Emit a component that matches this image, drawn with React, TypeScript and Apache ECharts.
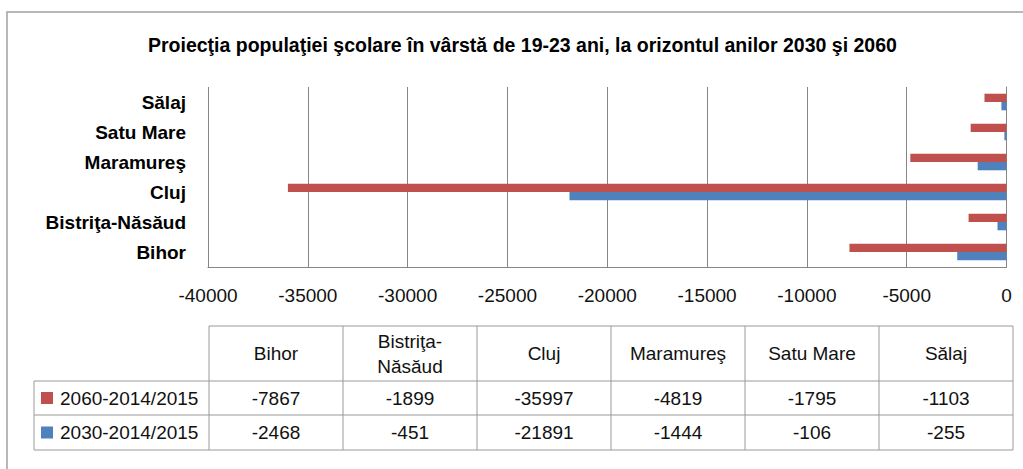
import React, { useEffect, useRef } from "react";
import * as echarts from "echarts";

const titleText = "Proiecţia populaţiei şcolare în vârstă de 19-23 ani, la orizontul anilor 2030 şi 2060";
const categories = ["Bihor", "Bistriţa-Năsăud", "Cluj", "Maramureş", "Satu Mare", "Sălaj"];
const seriesNames = ["2060-2014/2015", "2030-2014/2015"];
const values2060 = [-7867, -1899, -35997, -4819, -1795, -1103];
const values2030 = [-2468, -451, -21891, -1444, -106, -255];
const seriesColors = ["#C0504D", "#4F81BD"];
const xMin = -40000;
const xMax = 0;
const xInterval = 5000;

const FONT = "'Liberation Sans', Arial, sans-serif";

function buildTable() {
  const left = 34;
  const colLeft = 209;
  const colW = 134;
  const rows = [326, 381, 415, 450];
  const right = colLeft + colW * categories.length;
  const stroke = { stroke: "#9a9a9a", lineWidth: 1 };
  const els: any[] = [];
  els.push({ type: "line", shape: { x1: colLeft, y1: rows[0], x2: right, y2: rows[0] }, style: stroke });
  for (let i = 1; i < rows.length; i++) {
    els.push({ type: "line", shape: { x1: left, y1: rows[i], x2: right, y2: rows[i] }, style: stroke });
  }
  els.push({ type: "line", shape: { x1: left, y1: rows[1], x2: left, y2: rows[3] }, style: stroke });
  for (let c = 0; c <= categories.length; c++) {
    const x = colLeft + c * colW;
    els.push({ type: "line", shape: { x1: x, y1: rows[0], x2: x, y2: rows[3] }, style: stroke });
  }
  categories.forEach((cat, c) => {
    els.push({
      type: "text",
      x: colLeft + c * colW + colW / 2,
      y: (rows[0] + rows[1]) / 2,
      style: {
        text: cat.replace("-", "-\n"),
        font: `19px ${FONT}`,
        fill: "#111",
        align: "center",
        verticalAlign: "middle",
        lineHeight: 25,
      },
    });
  });
  const allValues = [values2060, values2030];
  allValues.forEach((vals, r) => {
    const yc = (rows[r + 1] + rows[r + 2]) / 2;
    els.push({
      type: "rect",
      shape: { x: 41, y: yc - 6, width: 12, height: 12 },
      style: { fill: seriesColors[r] },
    });
    els.push({
      type: "text",
      x: 60,
      y: yc,
      style: { text: seriesNames[r], font: `19px ${FONT}`, fill: "#111", align: "left", verticalAlign: "middle" },
    });
    vals.forEach((v, c) => {
      els.push({
        type: "text",
        x: colLeft + c * colW + colW / 2,
        y: yc,
        style: { text: String(v), font: `19px ${FONT}`, fill: "#111", align: "center", verticalAlign: "middle" },
      });
    });
  });
  return els;
}

export default function App() {
  const ref = useRef<HTMLDivElement>(null);
  useEffect(() => {
    if (!ref.current) return;
    const chart = echarts.init(ref.current, null, { renderer: "svg" });
    chart.setOption({
      animation: false,
      backgroundColor: "#fff",
      title: {
        text: titleText,
        left: 148,
        top: 35,
        padding: 0,
        textStyle: { fontFamily: FONT, fontSize: 19.5, fontWeight: "bold", color: "#000" },
      },
      grid: { left: 208, right: 16.5, top: 87, height: 180, containLabel: false },
      xAxis: {
        type: "value",
        min: xMin,
        max: xMax,
        interval: xInterval,
        axisLine: { show: true, lineStyle: { color: "#868686" } },
        axisTick: { show: false },
        splitLine: { show: true, lineStyle: { color: "#868686" } },
        axisLabel: {
          fontFamily: FONT,
          fontSize: 19,
          color: "#111",
          margin: 19,
          formatter: (v: number) => String(v),
        },
      },
      yAxis: {
        type: "category",
        data: categories,
        axisLine: { show: true, lineStyle: { color: "#868686" } },
        axisTick: { show: false },
        axisLabel: { fontFamily: FONT, fontSize: 19, fontWeight: "bold", color: "#000", margin: 22 },
      },
      series: [
        {
          name: seriesNames[0],
          type: "bar",
          data: values2060,
          barWidth: 8.3,
          barGap: "0%",
          itemStyle: { color: seriesColors[0] },
        },
        {
          name: seriesNames[1],
          type: "bar",
          data: values2030,
          barWidth: 8.3,
          barGap: "0%",
          itemStyle: { color: seriesColors[1] },
        },
      ],
      graphic: [
        {
          type: "rect",
          shape: { x: 7, y: 12, width: 1040, height: 520 },
          style: { fill: "none", stroke: "#a0a0a0", lineWidth: 1.5 },
          silent: true,
        },
        ...buildTable(),
      ],
    });
    return () => chart.dispose();
  }, []);
  return <div ref={ref} style={{ position: "absolute", left: 0, top: 0, width: 1023, height: 469 }} />;
}
